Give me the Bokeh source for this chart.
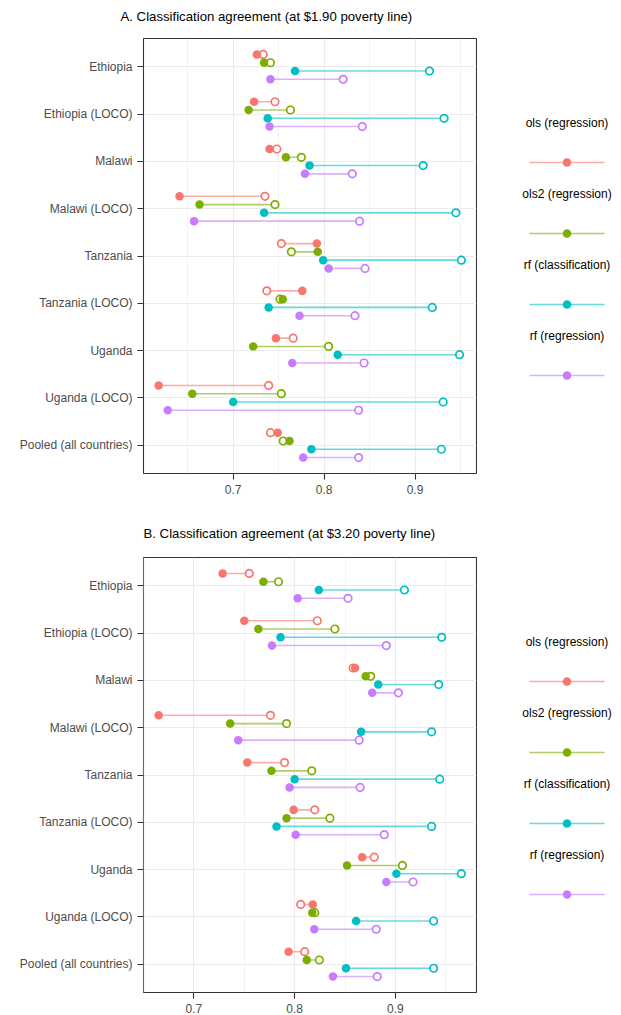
from bokeh.plotting import figure
from bokeh.models import Range1d, ColumnDataSource, FixedTicker
from bokeh.layouts import column, row
from bokeh.transform import dodge
from bokeh.embed import file_html
from bokeh.resources import INLINE
from bokeh.core.properties import value

FONT = "Liberation Sans"

categories = ["Ethiopia", "Ethiopia (LOCO)", "Malawi", "Malawi (LOCO)", "Tanzania",
              "Tanzania (LOCO)", "Uganda", "Uganda (LOCO)", "Pooled (all countries)"]
models = ["ols (regression)", "ols2 (regression)", "rf (classification)", "rf (regression)"]
colors = ["#F8766D", "#7CAE00", "#00BFC4", "#C77CFF"]
x_ticks = [0.7, 0.8, 0.9]
x_minor = [0.65, 0.75, 0.85, 0.95]

# Panel A ($1.90 poverty line): filled point and hollow point per model
a_ols_filled = [0.726, 0.723, 0.740, 0.641, 0.792, 0.776, 0.747, 0.618, 0.749]
a_ols_hollow = [0.733, 0.746, 0.748, 0.735, 0.753, 0.737, 0.766, 0.739, 0.741]
a_ols2_filled = [0.734, 0.717, 0.758, 0.663, 0.793, 0.7545, 0.722, 0.655, 0.762]
a_ols2_hollow = [0.741, 0.763, 0.775, 0.746, 0.764, 0.7515, 0.805, 0.753, 0.755]
a_rfc_filled = [0.768, 0.738, 0.784, 0.734, 0.799, 0.739, 0.815, 0.700, 0.786]
a_rfc_hollow = [0.916, 0.932, 0.909, 0.945, 0.951, 0.919, 0.949, 0.931, 0.929]
a_rfr_filled = [0.741, 0.740, 0.779, 0.657, 0.805, 0.773, 0.765, 0.628, 0.777]
a_rfr_hollow = [0.821, 0.842, 0.831, 0.839, 0.845, 0.834, 0.844, 0.838, 0.838]

# Panel B ($3.20 poverty line)
b_ols_filled = [0.7285, 0.750, 0.860, 0.665, 0.753, 0.799, 0.867, 0.818, 0.794]
b_ols_hollow = [0.755, 0.8225, 0.858, 0.776, 0.790, 0.820, 0.879, 0.806, 0.810]
b_ols2_filled = [0.769, 0.764, 0.8705, 0.736, 0.777, 0.792, 0.852, 0.8175, 0.812]
b_ols2_hollow = [0.784, 0.840, 0.8755, 0.792, 0.817, 0.835, 0.907, 0.820, 0.8245]
b_rfc_filled = [0.824, 0.786, 0.883, 0.866, 0.800, 0.782, 0.901, 0.861, 0.851]
b_rfc_hollow = [0.909, 0.946, 0.943, 0.936, 0.944, 0.936, 0.9655, 0.938, 0.938]
b_rfr_filled = [0.803, 0.7775, 0.877, 0.744, 0.795, 0.801, 0.891, 0.8195, 0.838]
b_rfr_hollow = [0.853, 0.891, 0.903, 0.864, 0.865, 0.889, 0.9175, 0.881, 0.882]

FRAME_W, FRAME_H = 333, 435
LEG_W = 144
PAGE_W = 621
TITLE_H = 30


def make_title(text, tx, ty):
    t = figure(frame_width=PAGE_W, frame_height=TITLE_H, min_border=0,
               x_range=Range1d(0, PAGE_W), y_range=Range1d(TITLE_H, 0),
               x_axis_location=None, y_axis_location=None,
               output_backend="svg", toolbar_location=None)
    t.outline_line_color = None
    t.xgrid.visible = False
    t.ygrid.visible = False
    t.background_fill_color = "white"
    t.border_fill_color = "white"
    t.text(x=[tx], y=[ty], text=[text], text_align="left", text_baseline="middle",
           text_font=value(FONT), text_font_size="13.2px", text_color="black")
    return t


def make_panel(filled, hollow, top, bottom):
    allv = [v for arr in filled + hollow for v in arr]
    lo, hi = min(allv), max(allv)
    pad = 0.05 * (hi - lo)
    n = len(categories)
    p = figure(frame_width=FRAME_W, frame_height=FRAME_H,
               min_border_left=143, min_border_right=1,
               min_border_top=top, min_border_bottom=bottom,
               x_range=Range1d(lo - pad, hi + pad),
               y_range=Range1d(n + 0.6, 0.4),
               output_backend="svg", toolbar_location=None)
    p.background_fill_color = "white"
    p.border_fill_color = "white"
    p.outline_line_color = "#333333"
    p.outline_line_width = 1.1

    ypos = list(range(1, n + 1))
    p.xaxis.ticker = FixedTicker(ticks=x_ticks, minor_ticks=x_minor)
    p.yaxis.ticker = FixedTicker(ticks=ypos)
    p.yaxis.major_label_overrides = {i: c for i, c in zip(ypos, categories)}
    for ax in (p.xaxis, p.yaxis):
        ax.axis_line_color = None
        ax.major_tick_line_color = "#333333"
        ax.major_tick_line_width = 1.1
        ax.major_tick_out = 6
        ax.major_tick_in = 0
        ax.minor_tick_out = 0
        ax.minor_tick_in = 0
        ax.major_label_text_font = FONT
        ax.major_label_text_font_size = "12px"
        ax.major_label_text_color = "#4D4D4D"
        ax.major_label_standoff = 5
    p.xgrid.grid_line_color = "#EBEBEB"
    p.xgrid.grid_line_width = 1.1
    p.xgrid.minor_grid_line_color = "#EBEBEB"
    p.xgrid.minor_grid_line_width = 0.6
    p.ygrid.grid_line_color = "#EBEBEB"
    p.ygrid.grid_line_width = 1.1

    offsets = [(-1.5 + i) * 0.175 for i in range(len(models))]
    sources = []
    for k in range(len(models)):
        sources.append(ColumnDataSource(dict(y=ypos, filled=filled[k], hollow=hollow[k])))
    for k, src in enumerate(sources):
        p.segment(x0="filled", x1="hollow", y0=dodge("y", offsets[k]), y1=dodge("y", offsets[k]),
                  source=src, line_color=colors[k], line_alpha=0.6, line_width=1.6)
    for k, src in enumerate(sources):
        p.scatter(x="hollow", y=dodge("y", offsets[k]), source=src, marker="circle",
                  size=7.5, fill_color="white", line_color=colors[k], line_width=1.7)
    for k, src in enumerate(sources):
        p.scatter(x="filled", y=dodge("y", offsets[k]), source=src, marker="circle",
                  size=8.5, fill_color=colors[k], line_color=None)

    lg = figure(frame_width=LEG_W, frame_height=FRAME_H,
                min_border_left=0, min_border_right=0,
                min_border_top=top, min_border_bottom=bottom,
                x_range=Range1d(0, LEG_W), y_range=Range1d(FRAME_H, 0),
                x_axis_location=None, y_axis_location=None,
                output_backend="svg", toolbar_location=None)
    lg.outline_line_color = None
    lg.xgrid.visible = False
    lg.ygrid.visible = False
    lg.background_fill_color = "white"
    lg.border_fill_color = "white"
    step = 71
    key_y = [FRAME_H / 2 - 1.5 * step + 13 + step * i for i in range(len(models))]
    lab_y = [y - 40 for y in key_y]
    cx = 89.5
    for k in range(len(models)):
        lg.segment(x0=[cx - 37.5], x1=[cx + 37.5], y0=[key_y[k]], y1=[key_y[k]],
                   line_color=colors[k], line_alpha=0.6, line_width=1.6)
        lg.scatter(x=[cx], y=[key_y[k]], marker="circle", size=8.5,
                   fill_color=colors[k], line_color=None)
    lg.text(x=[cx] * len(models), y=lab_y, text=models, text_align="center",
            text_baseline="middle", text_font=value(FONT), text_font_size="12px",
            text_color="black")
    return row(p, lg, spacing=0)


filled_a = [a_ols_filled, a_ols2_filled, a_rfc_filled, a_rfr_filled]
hollow_a = [a_ols_hollow, a_ols2_hollow, a_rfc_hollow, a_rfr_hollow]
filled_b = [b_ols_filled, b_ols2_filled, b_rfc_filled, b_rfr_filled]
hollow_b = [b_ols_hollow, b_ols2_hollow, b_rfc_hollow, b_rfr_hollow]

title_a = make_title("A. Classification agreement (at $1.90 poverty line)", 120, 16)
panel_a = make_panel(filled_a, hollow_a, 8, 42)
title_b = make_title("B. Classification agreement (at $3.20 poverty line)", 143, 18)
panel_b = make_panel(filled_b, hollow_b, 12, 23)

layout = column(title_a, panel_a, title_b, panel_b, spacing=0)
open("out.html", "w").write(file_html(layout, INLINE))
